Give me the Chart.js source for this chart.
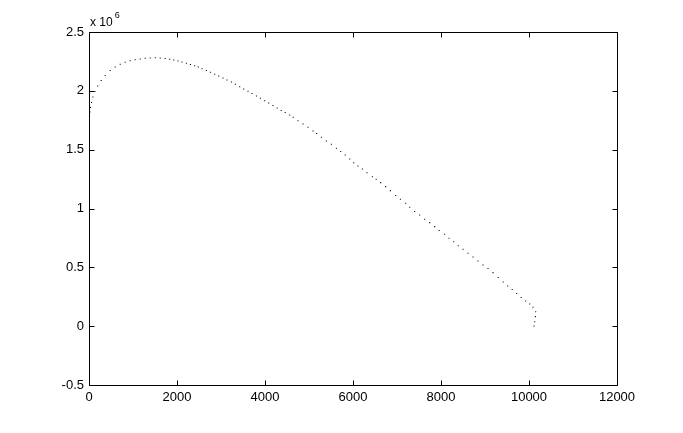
<!DOCTYPE html>
<html>
<head>
<meta charset="utf-8">
<script src="https://cdn.jsdelivr.net/npm/chart.js@4.4.1/dist/chart.umd.min.js"></script>
<style>
html,body{margin:0;padding:0;background:#fff;}
#wrap{width:683px;height:433px;position:relative;}
</style>
</head>
<body>
<div id="wrap"><canvas id="c" width="683" height="433"></canvas></div>
<script>
// Data (x, y in units of 10^6)
const xValues = [23,34,57,89,134,198,277,368,482,595,709,823,936,1050,1164,1277,1391,1505,1618,1732,1834,1925,2023,2114,2214,2305,2402,2482,2568,2668,2759,2857,2948,3045,3136,3236,3327,3425,3516,3614,3705,3805,3895,3993,4084,4182,4277,4368,4459,4561,4641,4750,4864,4977,5091,5175,5282,5395,5509,5623,5720,5823,5925,6016,6114,6214,6318,6441,6527,6630,6743,6850,6970,7077,7198,7289,7402,7516,7630,7743,7857,7959,8084,8182,8289,8391,8500,8614,8727,8841,8955,9068,9182,9300,9414,9516,9618,9720,9823,9925,10016,10091,10152,10145,10130,10114];
const yValues = [1.820,1.859,1.901,1.948,1.995,2.041,2.088,2.131,2.173,2.203,2.226,2.243,2.256,2.264,2.271,2.277,2.279,2.281,2.279,2.275,2.269,2.262,2.254,2.245,2.234,2.224,2.213,2.203,2.188,2.173,2.158,2.141,2.126,2.109,2.092,2.075,2.056,2.035,2.016,1.996,1.978,1.956,1.937,1.916,1.897,1.876,1.854,1.833,1.816,1.795,1.775,1.746,1.718,1.690,1.659,1.638,1.605,1.574,1.546,1.512,1.485,1.455,1.421,1.389,1.361,1.336,1.304,1.270,1.248,1.220,1.186,1.152,1.111,1.078,1.044,1.010,0.975,0.945,0.908,0.880,0.846,0.813,0.781,0.747,0.718,0.684,0.654,0.620,0.588,0.554,0.520,0.490,0.455,0.414,0.376,0.342,0.312,0.278,0.244,0.214,0.189,0.161,0.123,0.081,0.038,0.002];
const xTicks = [0,2000,4000,6000,8000,10000,12000];
const yTicks = [-0.5,0,0.5,1,1.5,2,2.5];
const yExponentBase = "x 10";
const yExponent = "6";

const points = xValues.map((x,i)=>({x:x, y:yValues[i]}));

const boxPlugin = {
  id:'matlabBox',
  afterDraw(chart){
    const ctx = chart.ctx, a = chart.chartArea;
    const xs = chart.scales.x, ys = chart.scales.y;
    const L = Math.round(a.left)+0.5, R = Math.round(a.right)+0.5, T = Math.round(a.top)+0.5, B = Math.round(a.bottom)+0.5;
    ctx.save();
    ctx.strokeStyle = '#000';
    ctx.lineWidth = 1;
    ctx.beginPath();
    ctx.rect(L, T, R-L, B-T);
    const tl = 5;
    xTicks.forEach(v=>{
      const px = Math.round(xs.getPixelForValue(v))+0.5;
      ctx.moveTo(px,B); ctx.lineTo(px,B-tl);
      ctx.moveTo(px,T); ctx.lineTo(px,T+tl);
    });
    yTicks.forEach(v=>{
      const py = Math.round(ys.getPixelForValue(v))+0.5;
      ctx.moveTo(L,py); ctx.lineTo(L+tl,py);
      ctx.moveTo(R,py); ctx.lineTo(R-tl,py);
    });
    ctx.stroke();
    // exponent label
    ctx.fillStyle = '#000';
    ctx.textBaseline = 'alphabetic';
    ctx.textAlign = 'left';
    ctx.font = '12px "Liberation Sans", Arial, sans-serif';
    ctx.fillText(yExponentBase, a.left+1, 26);
    const w = ctx.measureText(yExponentBase).width;
    ctx.font = '9px "Liberation Sans", Arial, sans-serif';
    ctx.fillText(yExponent, a.left+1+w+2, 18);
    ctx.restore();
  }
};

new Chart(document.getElementById('c'), {
  type:'scatter',
  data:{datasets:[{
    data: points,
    showLine:false,
    pointStyle:'rect',
    pointRadius:0.75,
    pointHoverRadius:0.75,
    borderWidth:0,
    backgroundColor:'#000',
    borderColor:'#000'
  }]},
  options:{
    responsive:false,
    animation:false,
    events:[],
    layout:{padding:{top:32,right:66,left:0,bottom:0}},
    plugins:{legend:{display:false},tooltip:{enabled:false}},
    scales:{
      x:{
        type:'linear', min:0, max:12000,
        afterBuildTicks(s){ s.ticks = xTicks.map(v=>({value:v})); },
        afterFit(s){ s.height = 48; },
        grid:{display:false, drawTicks:false},
        border:{display:false},
        ticks:{color:'#000', padding:5, maxRotation:0, autoSkip:false,
          font:{family:'"Liberation Sans", Arial, sans-serif', size:13},
          callback:(v)=>String(v)}
      },
      y:{
        type:'linear', min:-0.5, max:2.5,
        afterBuildTicks(s){ s.ticks = yTicks.map(v=>({value:v})); },
        afterFit(s){ s.width = 89; },
        grid:{display:false, drawTicks:false},
        border:{display:false},
        ticks:{color:'#000', padding:5, autoSkip:false,
          font:{family:'"Liberation Sans", Arial, sans-serif', size:13},
          callback:(v)=>String(v)}
      }
    }
  },
  plugins:[boxPlugin]
});
</script>
</body>
</html>
